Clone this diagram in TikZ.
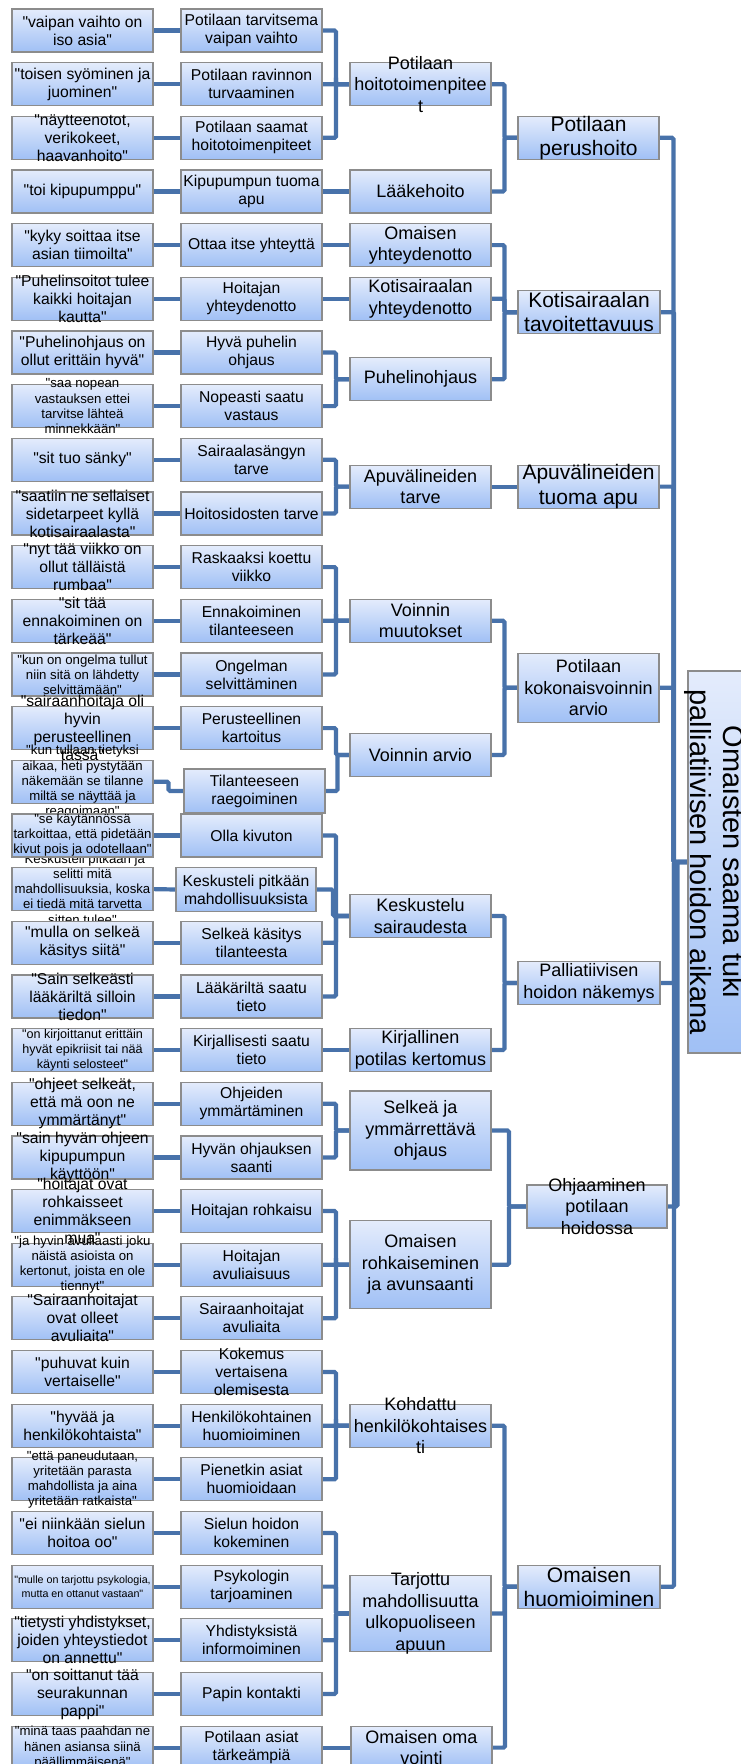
\documentclass[tikz,border=0pt]{standalone}
\usepackage{fontspec}
\setmainfont{Liberation Sans}[Ligatures=TeXOff]
\usetikzlibrary{calc,backgrounds}

\definecolor{linkblue}{RGB}{72,114,170}
\definecolor{boxline}{RGB}{140,140,140}
\definecolor{boxtop}{RGB}{228,236,252}
\definecolor{boxbot}{RGB}{160,192,245}

\tikzset{
  bx/.style={draw=boxline, line width=1.2pt, top color=boxtop, bottom color=boxbot,
             inner sep=0pt, outer sep=0pt, anchor=north west},
  lbl/.style={align=center, inner sep=0pt, text=black},
  link/.style={draw=linkblue, line width=4.2pt, rounded corners=1.5pt},
  flat/.style={draw=linkblue, line width=4.2pt},
  fA/.style={font=\fontsize{15.7}{18}\selectfont},
  fB/.style={font=\fontsize{13.2}{15.1}\selectfont},
  fC/.style={font=\fontsize{12.6}{14.8}\selectfont},
  fD/.style={font=\fontsize{10.7}{13.2}\selectfont},
  fE/.style={font=\fontsize{18}{21.5}\selectfont},
  fF/.style={font=\fontsize{21}{24.3}\selectfont},
  fR/.style={font=\fontsize{29}{33}\selectfont},
}

% box with its caption: name, left, top, width, height, font style, text
\newcommand{\mkbox}[7]{%
  \node[bx, minimum width=#4pt, minimum height=#5pt] (#1) at (#2,#3) {};
  \node[lbl, #6] (#1-t) at (#1.center) {#7};
}
% elbow connector from a child (left) to its parent (right)
\newcommand{\lnk}[2]{%
  \draw[link] (#1.east) -| ($(#1.east)!0.5!(#2.west)$) |- (#2.west);
}
% straight connector between boxes on the same level
\newcommand{\lns}[2]{%
  \draw[flat] (#1.east) -- (#2.west);
}

\begin{document}
\begin{tikzpicture}[x=1pt,y=-1pt]
\useasboundingbox (0,0) rectangle (740,1764);

% ---- quotations
\mkbox{q1}{12}{9.0}{141}{43}{fA}{"vaipan vaihto on\\iso asia"}
\mkbox{q2}{12}{62.7}{141}{43}{fA}{"toisen syöminen ja\\juominen"}
\mkbox{q3}{12}{116.3}{141}{43}{fA}{"näytteenotot,\\verikokeet,\\haavanhoito"}
\mkbox{q4}{12}{170.0}{141}{43}{fA}{"toi kipupumppu"}
\mkbox{q5}{12}{223.6}{141}{43}{fA}{"kyky soittaa itse\\asian tiimoilta"}
\mkbox{q6}{12}{277.3}{141}{43}{fA}{"Puhelinsoitot tulee\\kaikki hoitajan\\kautta"}
\mkbox{q7}{12}{331.0}{141}{43}{fA}{"Puhelinohjaus on\\ollut erittäin hyvä"}
\mkbox{q8}{12}{384.6}{141}{43}{fB}{"saa nopean\\vastauksen ettei\\tarvitse lähteä\\minnekkään"}
\mkbox{q9}{12}{438.3}{141}{43}{fA}{"sit tuo sänky"}
\mkbox{q10}{12}{491.9}{141}{43}{fA}{"saatiin ne sellaiset\\sidetarpeet kyllä\\kotisairaalasta"}
\mkbox{q11}{12}{545.6}{141}{43}{fA}{"nyt tää viikko on\\ollut tälläistä\\rumbaa"}
\mkbox{q12}{12}{599.3}{141}{43}{fA}{"sit tää\\ennakoiminen on\\tärkeää"}
\mkbox{q13}{12}{652.9}{141}{43}{fB}{"kun on ongelma tullut\\niin sitä on lähdetty\\selvittämään"}
\mkbox{q14}{12}{706.6}{141}{43}{fA}{"sairaanhoitaja oli\\hyvin\\perusteellinen\\tässä"}
\mkbox{q15}{12}{760.2}{141}{43}{fB}{"kun tullaan tietyksi\\aikaa, heti pystytään\\näkemään se tilanne\\miltä se näyttää ja\\reagoimaan"}
\mkbox{q17}{12}{867.6}{141}{43}{fB}{"Keskusteli pitkään ja\\selitti mitä\\mahdollisuuksia, koska\\ei tiedä mitä tarvetta\\sitten tulee"}
\mkbox{q16}{12}{813.9}{141}{43}{fB}{"se käytännössä\\tarkoittaa, että pidetään\\kivut pois ja odotellaan"}
\mkbox{q18}{12}{921.2}{141}{43}{fA}{"mulla on selkeä\\käsitys siitä"}
\mkbox{q19}{12}{974.9}{141}{43}{fA}{"Sain selkeästi\\lääkäriltä silloin\\tiedon"}
\mkbox{q20}{12}{1028.5}{141}{43}{fC}{"on kirjoittanut erittäin\\hyvät epikriisit tai nää\\käynti selosteet"}
\mkbox{q21}{12}{1082.2}{141}{43}{fA}{"ohjeet selkeät,\\että mä oon ne\\ymmärtänyt"}
\mkbox{q22}{12}{1135.9}{141}{43}{fA}{"sain hyvän ohjeen\\kipupumpun\\käyttöön"}
\mkbox{q23}{12}{1189.5}{141}{43}{fA}{"hoitajat ovat\\rohkaisseet\\enimmäkseen\\mua"}
\mkbox{q24}{12}{1243.2}{141}{43}{fB}{"ja hyvin avuliaasti joku\\näistä asioista on\\kertonut, joista en ole\\tiennyt"}
\mkbox{q25}{12}{1296.8}{141}{43}{fA}{"Sairaanhoitajat\\ovat olleet\\avuliaita"}
\mkbox{q26}{12}{1350.5}{141}{43}{fA}{"puhuvat kuin\\vertaiselle"}
\mkbox{q27}{12}{1404.2}{141}{43}{fA}{"hyvää ja\\henkilökohtaista"}
\mkbox{q28}{12}{1457.8}{141}{43}{fB}{"että paneudutaan,\\yritetään parasta\\mahdollista ja aina\\yritetään ratkaista"}
\mkbox{q29}{12}{1511.5}{141}{43}{fA}{"ei niinkään sielun\\hoitoa oo"}
\mkbox{q30}{12}{1565.1}{141}{43}{fD}{"mulle on tarjottu psykologia,\\mutta en ottanut vastaan"}
\mkbox{q31}{12}{1618.8}{141}{43}{fA}{"tietysti yhdistykset,\\joiden yhteystiedot\\on annettu"}
\mkbox{q32}{12}{1672.5}{141}{43}{fA}{"on soittanut tää\\seurakunnan\\pappi"}
\mkbox{q33}{12}{1726.1}{141}{43}{fB}{"minä taas paahdan ne\\hänen asiansa siinä\\päällimmäisenä"}

% ---- sub-categories
\mkbox{s1}{181}{9.0}{141}{43}{fA}{Potilaan tarvitsema\\vaipan vaihto}
\mkbox{s2}{181}{62.7}{141}{43}{fA}{Potilaan ravinnon\\turvaaminen}
\mkbox{s3}{181}{116.3}{141}{43}{fA}{Potilaan saamat\\hoitotoimenpiteet}
\mkbox{s4}{181}{170.0}{141}{43}{fA}{Kipupumpun tuoma\\apu}
\mkbox{s5}{181}{223.6}{141}{43}{fA}{Ottaa itse yhteyttä}
\mkbox{s6}{181}{277.3}{141}{43}{fA}{Hoitajan\\yhteydenotto}
\mkbox{s7}{181}{331.0}{141}{43}{fA}{Hyvä puhelin\\ohjaus}
\mkbox{s8}{181}{384.6}{141}{43}{fA}{Nopeasti saatu\\vastaus}
\mkbox{s9}{181}{438.3}{141}{43}{fA}{Sairaalasängyn\\tarve}
\mkbox{s10}{181}{491.9}{141}{43}{fA}{Hoitosidosten tarve}
\mkbox{s11}{181}{545.6}{141}{43}{fA}{Raskaaksi koettu\\viikko}
\mkbox{s12}{181}{599.3}{141}{43}{fA}{Ennakoiminen\\tilanteeseen}
\mkbox{s13}{181}{652.9}{141}{43}{fA}{Ongelman\\selvittäminen}
\mkbox{s14}{181}{706.6}{141}{43}{fA}{Perusteellinen\\kartoitus}
\mkbox{s15}{184}{769.0}{141}{44}{fA}{Tilanteeseen\\raegoiminen}
\mkbox{s16}{181}{813.9}{141}{43}{fA}{Olla kivuton}
\mkbox{s17}{176}{867.5}{140}{44}{fA}{Keskusteli pitkään\\mahdollisuuksista}
\mkbox{s18}{181}{921.2}{141}{43}{fA}{Selkeä käsitys\\tilanteesta}
\mkbox{s19}{181}{974.9}{141}{43}{fA}{Lääkäriltä saatu\\tieto}
\mkbox{s20}{181}{1028.5}{141}{43}{fA}{Kirjallisesti saatu\\tieto}
\mkbox{s21}{181}{1082.2}{141}{43}{fA}{Ohjeiden\\ymmärtäminen}
\mkbox{s22}{181}{1135.9}{141}{43}{fA}{Hyvän ohjauksen\\saanti}
\mkbox{s23}{181}{1189.5}{141}{43}{fA}{Hoitajan rohkaisu}
\mkbox{s24}{181}{1243.2}{141}{43}{fA}{Hoitajan\\avuliaisuus}
\mkbox{s25}{181}{1296.8}{141}{43}{fA}{Sairaanhoitajat\\avuliaita}
\mkbox{s26}{181}{1350.5}{141}{43}{fA}{Kokemus\\vertaisena\\olemisesta}
\mkbox{s27}{181}{1404.2}{141}{43}{fA}{Henkilökohtainen\\huomioiminen}
\mkbox{s28}{181}{1457.8}{141}{43}{fA}{Pienetkin asiat\\huomioidaan}
\mkbox{s29}{181}{1511.5}{141}{43}{fA}{Sielun hoidon\\kokeminen}
\mkbox{s30}{181}{1565.1}{141}{43}{fA}{Psykologin\\tarjoaminen}
\mkbox{s31}{181}{1618.8}{141}{43}{fA}{Yhdistyksistä\\informoiminen}
\mkbox{s32}{181}{1672.5}{141}{43}{fA}{Papin kontakti}
\mkbox{s33}{181}{1726.1}{141}{43}{fA}{Potilaan asiat\\tärkeämpiä}

% ---- categories
\mkbox{hoito}{350}{62.7}{141}{43}{fE}{Potilaan\\hoitotoimenpitee\\t}
\mkbox{laake}{350}{170.0}{141}{43}{fE}{Lääkehoito}
\mkbox{omyht}{350}{223.6}{141}{43}{fE}{Omaisen\\yhteydenotto}
\mkbox{kotyht}{350}{277.3}{141}{43}{fE}{Kotisairaalan\\yhteydenotto}
\mkbox{puh}{350}{357.8}{141}{43}{fE}{Puhelinohjaus}
\mkbox{apuv}{350}{465.1}{141}{43}{fE}{Apuvälineiden\\tarve}
\mkbox{vmuut}{350}{599.3}{141}{43}{fE}{Voinnin\\muutokset}
\mkbox{varvio}{350}{733.4}{141}{43}{fE}{Voinnin arvio}
\mkbox{kesk}{350}{894.4}{141}{43}{fE}{Keskustelu\\sairaudesta}
\mkbox{kirj}{350}{1028.5}{141}{43}{fE}{Kirjallinen\\potilas kertomus}
\mkbox{selk}{350}{1091.0}{141}{79}{fE}{Selkeä ja\\ymmärrettävä\\ohjaus}
\mkbox{rohk}{350}{1220.7}{141}{88}{fE}{Omaisen\\rohkaiseminen\\ja avunsaanti}
\mkbox{kohd}{350}{1404.2}{141}{43}{fE}{Kohdattu\\henkilökohtaises\\ti}
\mkbox{tarj}{350}{1575.5}{141}{76}{fE}{Tarjottu\\mahdollisuutta\\ulkopuoliseen\\apuun}
\mkbox{omavo}{351}{1726.1}{141}{43}{fE}{Omaisen oma\\vointi}

% ---- main categories
\mkbox{perus}{518}{116.3}{141}{43}{fF}{Potilaan\\perushoito}
\mkbox{kotit}{518}{290.7}{142}{43}{fF}{Kotisairaalan\\tavoitettavuus}
\mkbox{apuva}{518}{465.1}{141}{43}{fF}{Apuvälineiden\\tuoma apu}
\mkbox{kokon}{518}{653.3}{141}{69}{fE}{Potilaan\\kokonaisvoinnin\\arvio}
\mkbox{pall}{518}{961.5}{142}{43}{fE}{Palliatiivisen\\hoidon näkemys}
\mkbox{ohj}{527}{1185.0}{140}{43}{fE}{Ohjaaminen\\potilaan\\hoidossa}
\mkbox{huom}{518}{1565.2}{142}{43}{fF}{Omaisen\\huomioiminen}

% ---- root
\node[bx, minimum width=80pt, minimum height=382pt] (root) at (688,671) {};
\node[lbl, fR, rotate=-90] (root-t) at (714,862) {Omaisten saama tuki\\palliatiivisen hoidon aikana};

\begin{scope}[on background layer]
  \fill[white] (0,0) rectangle (740,1764);
  % quotations to sub-categories (row 15 steps down to its shifted box)
  \foreach \i in {1,...,14,16,17,...,33} { \lns{q\i}{s\i} }
  \lnk{q15}{s15}
  % sub-categories to categories
  \lnk{s1}{hoito} \lnk{s2}{hoito} \lnk{s3}{hoito}
  \lns{s4}{laake}
  \lns{s5}{omyht}
  \lns{s6}{kotyht}
  \lnk{s7}{puh} \lnk{s8}{puh}
  \lnk{s9}{apuv} \lnk{s10}{apuv}
  \lnk{s11}{vmuut} \lnk{s12}{vmuut} \lnk{s13}{vmuut}
  \lnk{s14}{varvio} \lnk{s15}{varvio}
  \lnk{s16}{kesk} \lnk{s17}{kesk} \lnk{s18}{kesk} \lnk{s19}{kesk}
  \lns{s20}{kirj}
  \lnk{s21}{selk} \lnk{s22}{selk}
  \lnk{s23}{rohk} \lnk{s24}{rohk} \lnk{s25}{rohk}
  \lnk{s26}{kohd} \lnk{s27}{kohd} \lnk{s28}{kohd}
  \lnk{s29}{tarj} \lnk{s30}{tarj} \lnk{s31}{tarj} \lnk{s32}{tarj}
  \lns{s33}{omavo}
  % categories to main categories
  \lnk{hoito}{perus} \lnk{laake}{perus}
  \lnk{omyht}{kotit} \lnk{kotyht}{kotit} \lnk{puh}{kotit}
  \lns{apuv}{apuva}
  \lnk{vmuut}{kokon} \lnk{varvio}{kokon}
  \lnk{kesk}{pall} \lnk{kirj}{pall}
  \lnk{selk}{ohj} \lnk{rohk}{ohj}
  \lnk{kohd}{huom} \lnk{tarj}{huom} \lnk{omavo}{huom}
  % main categories to the root
  \lnk{perus}{root} \lnk{kotit}{root} \lnk{apuva}{root} \lnk{kokon}{root}
  \lnk{pall}{root} \lnk{ohj}{root} \lnk{huom}{root}
\end{scope}
\end{tikzpicture}
\end{document}
